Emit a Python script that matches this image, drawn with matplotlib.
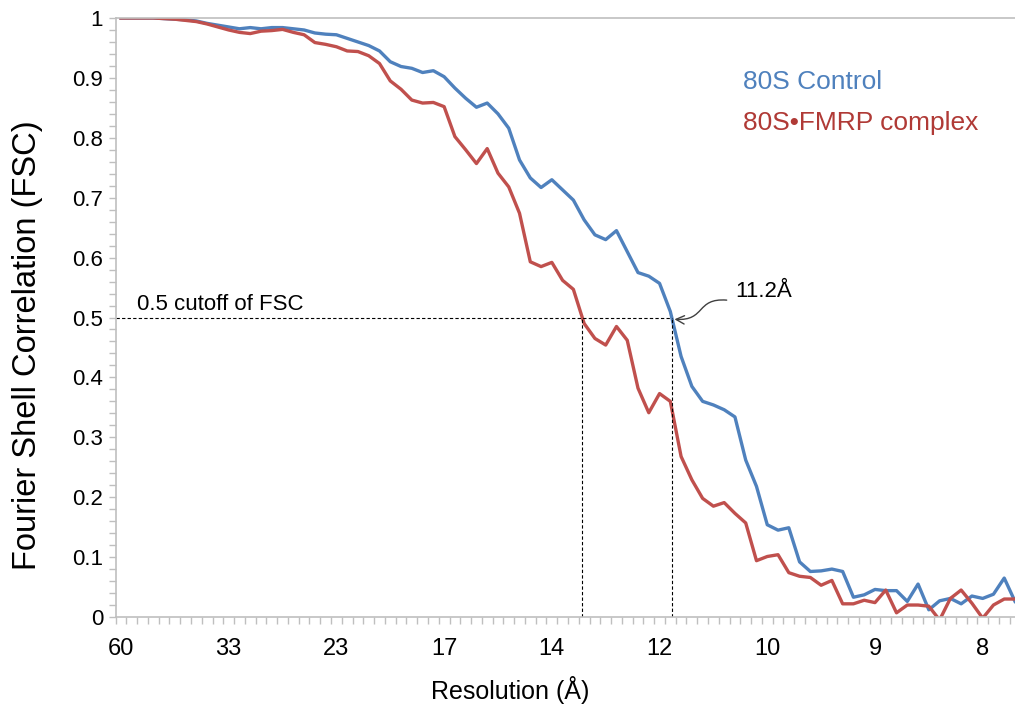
import matplotlib.pyplot as plt
import numpy as np
from matplotlib.patches import FancyArrowPatch
from matplotlib.path import Path
from matplotlib.ticker import FixedLocator, FuncFormatter

plt.rcParams['font.family'] = ['Liberation Sans', 'DejaVu Sans']

# resolution labels, one every 10 shells
shell_labels = ['60', '33', '23', '17', '14', '12', '10', '9', '8']
label_step = 10

fsc_control = [
    1.0, 1.0, 1.0, 1.0, 0.999, 0.998, 0.997, 0.995, 0.991, 0.988,
    0.985, 0.982, 0.984, 0.982, 0.984, 0.984, 0.982, 0.98, 0.975, 0.973,
    0.972, 0.966, 0.96, 0.954, 0.945, 0.927, 0.919, 0.916, 0.909, 0.912,
    0.902, 0.883, 0.866, 0.851, 0.858, 0.84, 0.816, 0.763, 0.733, 0.717,
    0.73, 0.713, 0.696, 0.663, 0.638, 0.63, 0.645, 0.61, 0.575, 0.569,
    0.557, 0.51, 0.435, 0.385, 0.36, 0.354, 0.346, 0.334, 0.262, 0.218,
    0.154, 0.145, 0.149, 0.092, 0.076, 0.077, 0.08, 0.076, 0.033, 0.037,
    0.046, 0.044, 0.044, 0.026, 0.055, 0.012, 0.027, 0.031, 0.022, 0.035,
    0.031, 0.038, 0.065, 0.026,
]

fsc_fmrp = [
    1.0, 1.0, 1.0, 1.0, 0.999, 0.998, 0.996, 0.994, 0.99, 0.985,
    0.98, 0.976, 0.974, 0.978, 0.979, 0.981, 0.976, 0.972, 0.959, 0.956,
    0.952, 0.945, 0.944, 0.937, 0.924, 0.895, 0.881, 0.863, 0.858, 0.859,
    0.852, 0.802, 0.78, 0.757, 0.782, 0.741, 0.718, 0.674, 0.593, 0.585,
    0.592, 0.562, 0.547, 0.49, 0.465, 0.454, 0.485, 0.462, 0.382, 0.341,
    0.373, 0.36, 0.268, 0.229, 0.198, 0.185, 0.191, 0.173, 0.157, 0.094,
    0.101, 0.104, 0.074, 0.068, 0.066, 0.053, 0.061, 0.022, 0.022, 0.028,
    0.024, 0.045, 0.007, 0.02, 0.02, 0.018, -0.005, 0.031, 0.045, 0.023,
    -0.002, 0.02, 0.03, 0.03,
]

cutoff = 0.5
BLUE = '#4F81BD'
RED = '#C0504D'
GRAY = '#BFBFBF'


def first_crossing(values, level):
    """Fractional index where a series first drops below level."""
    v = np.asarray(values)
    for i in range(len(v) - 1):
        if v[i] >= level > v[i + 1]:
            return i + (v[i] - level) / (v[i] - v[i + 1])
    return None


x = np.arange(len(fsc_control))

fig = plt.figure(figsize=(10.15, 7.13), dpi=100)
ax = fig.add_axes([115.6 / 1015, 96 / 713, 899.4 / 1015, 599 / 713])

ax.plot(x, fsc_control, color=BLUE, lw=2.4, solid_joinstyle='round')
ax.plot(x, fsc_fmrp, color=RED, lw=2.4, solid_joinstyle='round')

ax.set_xlim(-0.5, len(x) - 1)
ax.set_ylim(0, 1)

# cutoff guides
x_blue = first_crossing(fsc_control, cutoff)
x_red = first_crossing(fsc_fmrp, cutoff)
dash = dict(color='black', lw=0.8, ls=(0, (3, 2)))
ax.plot([-0.5, x_blue], [cutoff, cutoff], **dash)
ax.plot([x_red, x_red], [0, cutoff], **dash)
ax.plot([x_blue, x_blue], [0, cutoff], **dash)

# axes styling
for side in ['left', 'bottom', 'top']:
    ax.spines[side].set_color(GRAY)
    ax.spines[side].set_linewidth(1.2)
ax.spines['right'].set_visible(False)

ax.xaxis.set_major_locator(FixedLocator(x[::label_step]))
ax.set_xticklabels(shell_labels)
ax.xaxis.set_minor_locator(FixedLocator(np.arange(-0.5, len(x) - 1, 1)))
ax.tick_params(axis='x', which='major', length=0, pad=15, labelsize=17)
ax.tick_params(axis='x', which='minor', length=5, width=1, color=GRAY)

ax.yaxis.set_major_locator(FixedLocator(np.round(np.arange(0, 1.01, 0.1), 2)))
ax.yaxis.set_minor_locator(FixedLocator(np.round(np.arange(0, 1.01, 0.02), 2)))
ax.yaxis.set_major_formatter(FuncFormatter(lambda v, p: f'{v:g}'))
ax.tick_params(axis='y', which='both', length=5, width=1, color=GRAY)
ax.tick_params(axis='y', which='major', pad=4, labelsize=16)

ax.text(-0.0974, 0.454, 'Fourier Shell Correlation (FSC)', transform=ax.transAxes,
        rotation=90, ha='center', va='center', fontsize=23.5)
ax.text(0.4387, -0.122, 'Resolution (Å)', transform=ax.transAxes,
        ha='center', va='center', fontsize=18)

# annotations
ax.text(1.5, 0.5225, '0.5 cutoff of FSC', fontsize=16, va='center', ha='left')
ax.text(57.0, 0.544, '11.2Å', fontsize=16, va='center', ha='left')
arrow_path = Path(
    [(x_blue + 5.1, 0.529), (x_blue + 2.2, 0.533),
     (x_blue + 3.2, 0.494), (x_blue + 0.25, 0.497)],
    [Path.MOVETO, Path.CURVE4, Path.CURVE4, Path.CURVE4],
)
ax.add_patch(FancyArrowPatch(path=arrow_path, arrowstyle='->', mutation_scale=15,
                             color='#404040', lw=1.0))

ax.text(57.75, 0.893, '80S Control', color=BLUE, fontsize=19, va='center')
ax.text(57.75, 0.825, '80S\u2022FMRP complex', color='#B03A36', fontsize=19, va='center')

fig.savefig('out.png', dpi=100)
